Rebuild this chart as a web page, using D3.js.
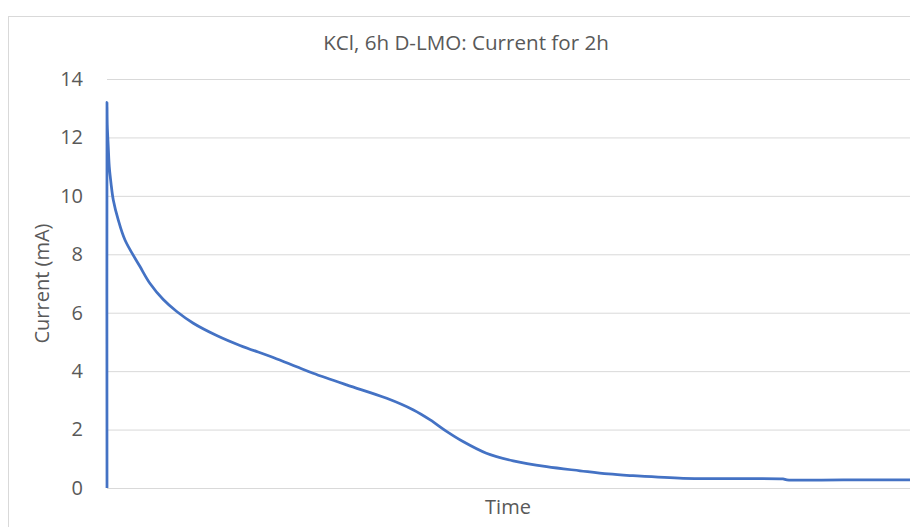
<!DOCTYPE html>
<html><head><meta charset="utf-8">
<script src="https://cdn.jsdelivr.net/npm/d3@7"></script>
<style>body{margin:0;background:#fff}svg{display:block}text{font-family:"Open Sans","Noto Sans",sans-serif;fill:#595959}</style>
</head><body><svg id="c" width="910" height="527"></svg>
<script>
const title = "KCl, 6h D-LMO: Current for 2h";
const yTitle = "Current (mA)";
const xTitle = "Time";
const yTicks = [0,2,4,6,8,10,12,14];
// time in minutes, current in mA
const timeMin = [0,0,0.04,0.19,0.34,0.6,0.94,1.69,2.69,4.93,6.43,8.41,10.42,12.9,16.39,19.87,24.85,28.35,30.8,35.8,41.8,45.8,48.3,50.8,53.2,56.7,60.7,65.7,70.7,74.9,78.6,86.1,93,101,101.6,110,120];
const currentmA = [0,13.2,12.43,11.68,11.0,10.43,9.86,9.17,8.49,7.58,7.0,6.45,6.04,5.64,5.22,4.88,4.47,4.15,3.93,3.53,3.07,2.67,2.33,1.93,1.59,1.19,0.93,0.73,0.59,0.48,0.42,0.33,0.32,0.31,0.28,0.28,0.28];

const svg = d3.select("#c");
const m = {l:107, r:910, t:79, b:488};
const x = d3.scaleLinear().domain([0,120]).range([m.l,m.r]);
const y = d3.scaleLinear().domain([0,14]).range([m.b,m.t]);

svg.append("rect").attr("x",8.5).attr("y",16.5).attr("width",1000).attr("height",1000)
  .attr("fill","none").attr("stroke","#d9d9d9");

const gy = svg.append("g").attr("transform",`translate(${m.l},0)`)
  .call(d3.axisLeft(y).tickValues(yTicks).tickSize(-(m.r-m.l)).tickPadding(24));
gy.select(".domain").remove();
gy.selectAll(".tick line").attr("stroke","#d9d9d9").attr("stroke-width",1);
gy.selectAll(".tick text").attr("font-size",null).style("font-size","20px").attr("fill","#595959").attr("font-family",null);
gy.attr("font-size",null).attr("font-family",null);

svg.append("text").attr("x",466).attr("y",50).attr("text-anchor","middle").style("font-size","20.6px").text(title);
svg.append("text").attr("x",508).attr("y",514).attr("text-anchor","middle").style("font-size","20px").text(xTitle);
svg.append("text").attr("transform","translate(49,283.5) rotate(-90)").attr("text-anchor","middle").style("font-size","20px").text(yTitle);

const pts = timeMin.map((t,i)=>[t,currentmA[i]]);
svg.append("path").datum(pts)
  .attr("fill","none").attr("stroke","#4472C4").attr("stroke-width",2.75).attr("stroke-linejoin","round")
  .attr("d", d3.line().x(d=>x(d[0])).y(d=>y(d[1])).curve(d3.curveCatmullRom.alpha(0.5)));
</script></body></html>
